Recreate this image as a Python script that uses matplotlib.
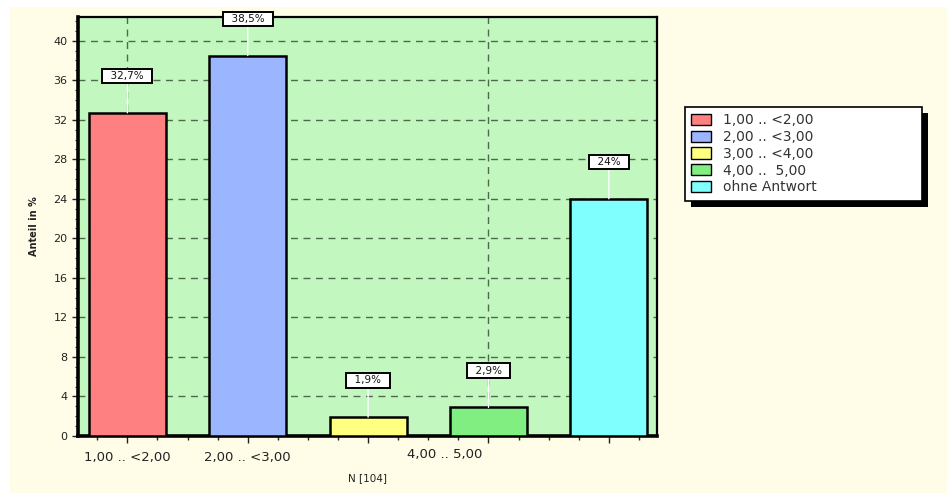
import matplotlib
matplotlib.use("Agg")
import matplotlib.pyplot as plt
from matplotlib.patches import Rectangle
from matplotlib.ticker import MultipleLocator
from matplotlib.transforms import blended_transform_factory

# data
categories = ["1,00 .. <2,00", "2,00 .. <3,00", "3,00 .. <4,00", "4,00 ..  5,00", "ohne Antwort"]
shares = [32.7, 38.5, 1.9, 2.9, 24.0]
bar_colors = ["#ff8080", "#9cb5ff", "#ffff80", "#80ee80", "#80ffff"]
y_ticks = [0, 4, 8, 12, 16, 20, 24, 28, 32, 36, 40]

fig_bg = "#fffde8"
plot_bg = "#c2f7c0"
plt.rcParams["font.family"] = ["DejaVu Sans"]

fig = plt.figure(figsize=(9.47, 4.93), dpi=100, facecolor="white")
# cream panel with a thin white strip on the left and top
fig.patches.append(Rectangle((10 / 947, 0), 1, 1 - 7 / 493, transform=fig.transFigure,
                             facecolor=fig_bg, edgecolor="none", zorder=-10))

ax = fig.add_axes([78 / 947, 57 / 493, 579 / 947, 419 / 493])
ax.set_facecolor(plot_bg)

x = list(range(len(categories)))
bars = ax.bar(x, shares, width=0.64, color=bar_colors, edgecolor="black", linewidth=1.8, zorder=3)

ax.set_xlim(-0.41, 4.40)
ax.set_ylim(0, 42.4)

# grid: horizontal at every major y tick, vertical only at two categories
ax.set_yticks(y_ticks)
ax.yaxis.set_minor_locator(MultipleLocator(1))
ax.yaxis.grid(True, linestyle=(0, (5, 4)), color="#4d6a4d", linewidth=1, zorder=1)
for gx in [0, 3]:
    ax.axvline(gx, linestyle=(0, (5, 4)), color="#4d6a4d", linewidth=1, zorder=1)

# x ticks: labels only on the first two, the 4th one sits shifted left like in the original
ax.set_xticks(x)
ax.set_xticklabels([categories[0], categories[1], "", "", ""])
ax.xaxis.set_minor_locator(MultipleLocator(0.25))
ax.tick_params(axis="x", which="major", length=5, width=1, labelsize=9.5, colors="#222222", pad=6)
ax.tick_params(axis="x", which="minor", length=3, width=1, colors="#222222")
ax.tick_params(axis="y", which="major", length=4, width=1, labelsize=8, colors="#222222")
ax.tick_params(axis="y", which="minor", length=2, width=0.8, colors="#222222")
trans = blended_transform_factory(ax.transData, ax.transAxes)
ax.text(3 - 0.36, -0.028, categories[3].replace("  ", " "), transform=trans, ha="center", va="top",
        fontsize=9.5, color="#222222")

ax.set_xlabel("N [104]", fontsize=7.5, color="#222222", labelpad=6)
ax.set_ylabel("Anteil in %", fontsize=7, color="#222222", fontweight="bold", labelpad=10)

for side in ["left", "bottom"]:
    ax.spines[side].set_linewidth(2.6)
for side in ["top", "right"]:
    ax.spines[side].set_linewidth(1.6)

# value boxes above the bars, connected with a white line
for xi, v in zip(x, shares):
    txt = f"{v:g}".replace(".", ",") + "%"
    ax.annotate("  " + txt + "  ", xy=(xi, v), xytext=(0, 26.5), textcoords="offset points",
                ha="center", va="center", fontsize=7.5, color="#111111", zorder=6,
                bbox=dict(boxstyle="square,pad=0.2", fc="white", ec="black", lw=1.4),
                arrowprops=dict(arrowstyle="-", color="white", lw=1, shrinkA=0, shrinkB=0),
                annotation_clip=False)

# legend with a solid black drop shadow
leg = fig.legend(bars.patches, categories, loc="upper left",
                 bbox_to_anchor=(685 / 947, 1 - 203 / 493, 237 / 947, 96 / 493), mode="expand",
                 borderaxespad=0, fontsize=10, frameon=True, fancybox=False, framealpha=1,
                 edgecolor="black", facecolor="white", handlelength=1.45, handleheight=0.85,
                 handletextpad=0.8, labelspacing=0.2, borderpad=0.45, labelcolor="#333333")
leg.get_frame().set_linewidth(1.2)
leg.set_zorder(5)
for h in leg.legend_handles:
    h.set_edgecolor("black")
    h.set_linewidth(1)

fig.canvas.draw()
bb = leg.get_window_extent()
fig.patches.append(Rectangle((bb.x0 + 6, bb.y0 - 6), bb.width, bb.height, transform=None,
                             facecolor="black", edgecolor="none", zorder=4))

fig.savefig("out.png", dpi=100, facecolor="white")
